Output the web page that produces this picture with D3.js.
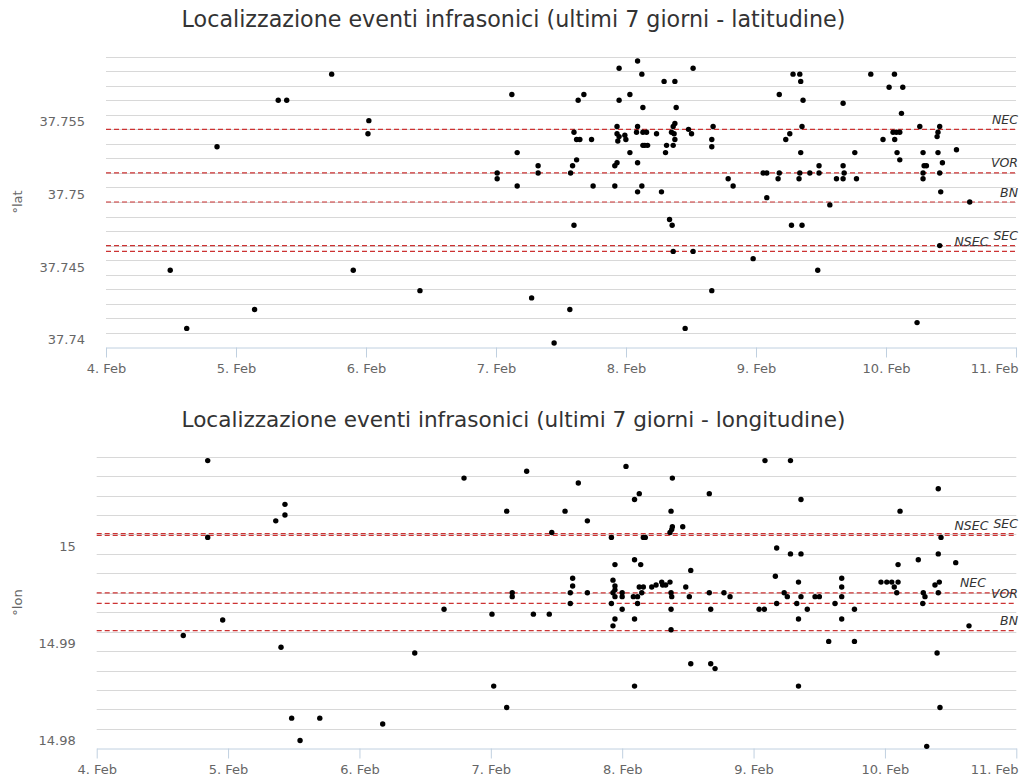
<!DOCTYPE html>
<html><head><meta charset="utf-8">
<script src="https://cdn.jsdelivr.net/npm/d3@7"></script>
<style>
body{margin:0;background:#fff}
svg{display:block}
text{font-family:"DejaVu Sans",Verdana,sans-serif}
</style>
</head><body>
<svg id="c" width="1027" height="779"></svg>
<script>
// ---------- data ----------
const YEAR = 2017;
const xTickDays = [4, 5, 6, 7, 8, 9, 10, 11];
const latTickValues = [37.74, 37.745, 37.75, 37.755];
const latTickLabels = ["37.74", "37.745", "37.75", "37.755"];
const lonTickValues = [14.98, 14.99, 15.0];
const lonTickLabels = ["14.98", "14.99", "15"];
const latRefNames = ["NEC", "VOR", "BN", "SEC", "NSEC"];
const latRefValues = [37.7540, 37.7510, 37.7490, 37.7460, 37.7456];
const lonRefNames = ["NSEC", "SEC", "NEC", "VOR", "BN"];
const lonRefValues = [14.9999, 15.0001, 14.9940, 14.9929, 14.9901];
const titles = [
  "Localizzazione eventi infrasonici (ultimi 7 giorni - latitudine)",
  "Localizzazione eventi infrasonici (ultimi 7 giorni - longitudine)"
];
const axisTitles = ["°lat", "°lon"];

// [day of February (decimal), latitude]
const latEvents = [
[4.494,37.7443],[4.621,37.7403],[4.854,37.7528],[5.143,37.7416],[5.325,37.7560],[5.390,37.7560],[5.736,37.7578],[5.902,37.7443],[6.022,37.7546],[6.015,37.7537],[6.415,37.7429],
[7.009,37.7510],[7.009,37.7506],[7.122,37.7564],[7.163,37.7524],[7.163,37.7501],[7.274,37.7424],[7.324,37.7515],[7.324,37.7510],[7.447,37.7393],[7.568,37.7416],[7.574,37.7510],[7.589,37.7515],[7.600,37.7538],[7.600,37.7474],[7.620,37.7533],[7.620,37.7519],[7.632,37.7560],[7.645,37.7533],[7.676,37.7564],[7.735,37.7533],[7.747,37.7501],
[7.914,37.7515],[7.914,37.7501],[7.931,37.7517],[7.931,37.7542],[7.931,37.7537],[7.947,37.7535],[7.937,37.7532],[7.947,37.7582],[7.947,37.7560],[7.991,37.7536],[7.999,37.7533],
[8.030,37.7564],[8.030,37.7524],[8.089,37.7587],[8.089,37.7542],[8.081,37.7538],[8.089,37.7517],[8.089,37.7497],[8.122,37.7578],[8.122,37.7501],[8.130,37.7555],[8.130,37.7538],[8.130,37.7529],[8.145,37.7529],[8.158,37.7538],[8.166,37.7529],[8.235,37.7537],[8.273,37.7497],[8.293,37.7573],[8.304,37.7524],[8.312,37.7529],[8.335,37.7478],[8.350,37.7538],[8.355,37.7474],[8.363,37.7542],[8.363,37.7529],[8.363,37.7456],[8.370,37.7537],[8.376,37.7544],[8.376,37.7533],[8.376,37.7573],[8.386,37.7555],[8.455,37.7403],[8.481,37.7540],[8.504,37.7537],[8.516,37.7582],[8.516,37.7456],[8.660,37.7429],[8.670,37.7542],[8.660,37.7533],[8.660,37.7528],[8.786,37.7506],[8.824,37.7501],[8.978,37.7451],
[9.055,37.7510],[9.083,37.7510],[9.083,37.7493],[9.170,37.7506],[9.179,37.7510],[9.179,37.7564],[9.229,37.7533],[9.260,37.7537],[9.273,37.7474],[9.285,37.7578],[9.331,37.7506],[9.337,37.7510],[9.337,37.7578],[9.344,37.7573],[9.344,37.7524],[9.354,37.7474],[9.354,37.7542],[9.362,37.7560],[9.414,37.7510],[9.475,37.7443],[9.485,37.7515],[9.485,37.7510],[9.568,37.7488],[9.619,37.7506],[9.670,37.7515],[9.678,37.7510],[9.670,37.7506],[9.670,37.7558],[9.760,37.7524],[9.773,37.7506],[9.883,37.7578],[9.977,37.7533],
[10.024,37.7569],[10.054,37.7538],[10.065,37.7578],[10.067,37.7533],[10.080,37.7538],[10.085,37.7524],[10.106,37.7538],[10.106,37.7519],[10.119,37.7551],[10.129,37.7569],[10.239,37.7407],[10.260,37.7542],[10.285,37.7524],[10.285,37.7510],[10.285,37.7506],[10.293,37.7515],[10.311,37.7515],[10.393,37.7535],[10.400,37.7538],[10.400,37.7524],[10.413,37.7542],[10.413,37.7510],[10.413,37.7460],[10.421,37.7497],[10.434,37.7517],[10.542,37.7526],[10.644,37.7490]
];

// [day of February (decimal), longitude]
const lonEvents = [
[4.659,14.9896],[4.845,15.0076],[4.845,14.9997],[4.959,14.9912],[5.363,15.0014],[5.403,14.9884],[5.433,15.0031],[5.433,15.0020],[5.484,14.9811],[5.548,14.9788],[5.698,14.9811],[6.177,14.9805],[6.421,14.9878],[6.644,14.9923],[6.796,15.0058],
[7.009,14.9918],[7.022,14.9844],[7.121,15.0024],[7.121,14.9822],[7.163,14.9940],[7.163,14.9936],[7.273,15.0065],[7.324,14.9918],[7.445,14.9918],[7.464,15.0002],[7.565,15.0024],[7.605,14.9940],[7.605,14.9929],[7.623,14.9955],[7.623,14.9947],[7.666,15.0053],[7.735,15.0014],[7.735,14.9940],
[7.918,14.9997],[7.945,14.9969],[7.930,14.9953],[7.945,14.9947],[7.945,14.9943],[7.930,14.9940],[7.945,14.9936],[8.000,14.9940],[8.000,14.9936],[7.918,14.9929],[8.000,14.9923],[7.945,14.9913],[7.930,14.9906],
[8.029,15.0070],[8.094,15.0036],[8.130,15.0042],[8.161,14.9997],[8.176,14.9997],[8.094,14.9974],[8.141,14.9969],[8.085,14.9936],[8.117,14.9936],[8.130,14.9946],[8.161,14.9946],[8.149,14.9940],[8.117,14.9929],[8.094,14.9913],[8.094,14.9844],
[8.225,14.9946],[8.258,14.9948],[8.308,14.9948],[8.301,14.9951],[8.364,14.9951],[8.331,14.9948],[8.382,15.0058],[8.372,15.0024],[8.382,15.0008],[8.377,15.0005],[8.364,15.0002],[8.461,15.0008],[8.372,14.9940],[8.377,14.9936],[8.372,14.9923],[8.372,14.9902],[8.484,14.9946],[8.511,14.9936],[8.522,14.9963],[8.522,14.9867],[8.663,15.0042],[8.663,14.9940],[8.674,14.9923],[8.674,14.9867],[8.707,14.9862],[8.775,14.9940],[8.821,14.9936],
[9.042,14.9923],[9.082,14.9923],[9.087,15.0076],[9.166,14.9957],[9.176,14.9986],[9.176,14.9929],[9.233,14.9940],[9.257,14.9936],[9.281,15.0076],[9.281,14.9980],[9.342,14.9951],[9.361,15.0036],[9.361,14.9980],[9.361,14.9936],[9.329,14.9929],[9.409,14.9923],[9.342,14.9913],[9.342,14.9844],[9.468,14.9936],[9.501,14.9936],[9.572,14.9890],[9.620,14.9929],[9.671,14.9955],[9.671,14.9946],[9.671,14.9936],[9.671,14.9913],[9.768,14.9923],[9.768,14.9890],
[9.970,14.9951],[10.014,14.9951],[10.052,14.9951],[10.100,14.9951],[10.071,14.9946],[10.090,14.9940],[10.115,15.0024],[10.100,14.9969],[10.254,14.9974],[10.292,14.9940],[10.305,14.9936],[10.288,14.9929],[10.318,14.9782],[10.381,14.9948],[10.414,14.9951],[10.406,14.9940],[10.406,15.0047],[10.406,14.9980],[10.427,14.9997],[10.397,14.9878],[10.419,14.9822],[10.539,14.9971],[10.640,14.9906]
];

// ---------- layout ----------
const panels = [
  {title: titles[0], axisTitle: axisTitles[0], events: latEvents,
   tickValues: latTickValues, tickLabels: latTickLabels,
   refNames: latRefNames, refValues: latRefValues,
   labelBeside: {4: 3},            // NSEC label placed left of SEC label
   left: 106, right: 1016, top: 56.7, bottom: 347.3,
   yMin: 37.739, yMax: 37.759, gridStep: 0.001, gridCount: 20,
   titleY: 26.5, labelDy: 11.5, xLabelY: 372.5, axisTitleY: 202},
  {title: titles[1], axisTitle: axisTitles[1], events: lonEvents,
   tickValues: lonTickValues, tickLabels: lonTickLabels,
   refNames: lonRefNames, refValues: lonRefValues,
   labelBeside: {0: 1, 2: 3},      // NSEC left of SEC, NEC left of VOR
   left: 96.7, right: 1016.3, top: 456.7, bottom: 748.3,
   yMin: 14.978, yMax: 15.008, gridStep: 0.002, gridCount: 15,
   titleY: 426.5, labelDy: 16.3, xLabelY: 773.5, axisTitleY: 602.5}
];

const svg = d3.select("#c");
const toDate = d => new Date(Date.UTC(YEAR, 1, 1) + (d - 1) * 864e5);
const fmt = d3.utcFormat("%-d. %b");
const LABEL_RIGHT = 1018;

panels.forEach(p => {
  const g = svg.append("g");
  const x = d3.scaleUtc().domain([toDate(4), toDate(11)]).range([p.left, p.right]);
  const y = d3.scaleLinear().domain([p.yMin, p.yMax]).range([p.bottom, p.top]);

  // title
  const t = g.append("text").attr("x", 513.5).attr("y", p.titleY)
    .attr("text-anchor", "middle").attr("fill", "#333")
    .style("font-size", "18px").text(p.title);
  const w = t.node().getComputedTextLength();
  t.style("font-size", (18 * 664 / w).toFixed(2) + "px");

  // gridlines
  const gridVals = d3.range(1, p.gridCount + 1).map(i => p.yMin + i * p.gridStep);
  g.append("g").selectAll("line").data(gridVals).join("line")
    .attr("x1", p.left).attr("x2", p.right)
    .attr("y1", d => Math.round(y(d)) + 0.5).attr("y2", d => Math.round(y(d)) + 0.5)
    .attr("stroke", "#d8d8d8").attr("stroke-width", 1);

  // y labels
  g.append("g").selectAll("text").data(p.tickValues).join("text")
    .attr("x", p.left - 21).attr("y", d => y(d) + p.labelDy)
    .attr("text-anchor", "end").attr("fill", "#666")
    .style("font-size", "13px")
    .text((d, i) => p.tickLabels[i]);

  // axis title
  g.append("text")
    .attr("transform", `translate(22,${p.axisTitleY}) rotate(-90)`)
    .attr("text-anchor", "middle").attr("fill", "#666")
    .style("font-size", "13px").text(p.axisTitle);

  // x axis
  const xAxis = d3.axisBottom(x)
    .tickValues(xTickDays.map(toDate))
    .tickFormat(fmt).tickSize(10).tickSizeOuter(0);
  const ax = g.append("g").attr("transform", `translate(0,${Math.round(p.bottom) + 0.5})`).call(xAxis);
  ax.select(".domain").attr("stroke", "#c0d0e0");
  ax.selectAll(".tick line").attr("stroke", "#c0d0e0");
  ax.selectAll(".tick text").attr("fill", "#666")
    .style("font-size", "13px").style("font-family", '"DejaVu Sans",Verdana,sans-serif')
    .attr("y", p.xLabelY - Math.round(p.bottom) - 0.5).attr("dy", 0);
  ax.selectAll(".tick text").filter((d, i) => i === xTickDays.length - 1)
    .attr("text-anchor", "end").attr("x", 1018 - x(toDate(11)));

  // reference lines
  g.append("g").selectAll("line").data(p.refValues).join("line")
    .attr("x1", p.left).attr("x2", p.right)
    .attr("y1", d => y(d)).attr("y2", d => y(d))
    .attr("stroke", "#cc3333").attr("stroke-width", 1.2)
    .attr("stroke-dasharray", "5,3");
  const labels = g.append("g").selectAll("text").data(p.refValues).join("text")
    .attr("x", LABEL_RIGHT).attr("y", d => y(d) - 5.5)
    .attr("text-anchor", "end").attr("fill", "#333")
    .style("font-size", "12.5px").style("font-style", "italic")
    .text((d, i) => p.refNames[i]);
  const nodes = labels.nodes();
  Object.entries(p.labelBeside).forEach(([i, j]) => {
    const wj = nodes[j].getComputedTextLength();
    d3.select(nodes[i]).attr("x", LABEL_RIGHT - wj - 5);
  });

  // points
  g.append("g").selectAll("circle").data(p.events).join("circle")
    .attr("cx", d => x(toDate(d[0]))).attr("cy", d => y(d[1]))
    .attr("r", 2.7).attr("fill", "#000");
});
</script>
</body></html>
